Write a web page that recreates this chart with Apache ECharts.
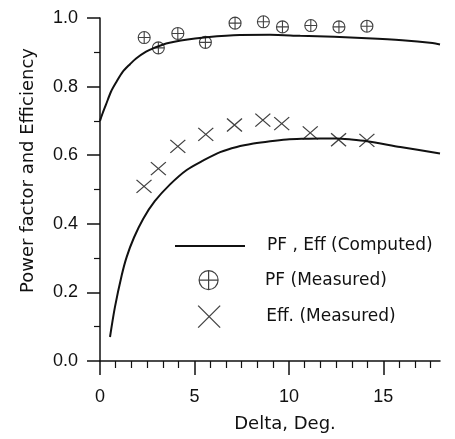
<!DOCTYPE html>
<html>
<head>
<meta charset="utf-8">
<script src="https://cdn.jsdelivr.net/npm/echarts@6/dist/echarts.min.js"></script>
<style>
  html, body { margin: 0; padding: 0; background: #ffffff; }
  #chart { width: 455px; height: 439px; }
</style>
</head>
<body>
<div id="chart"></div>
<script>
// Computed power factor curve (delta in degrees)
const pfCompX = [0.0, 0.11, 0.32, 0.58, 0.85, 1.2, 1.6, 1.91, 2.44, 2.88, 3.62, 5.03, 7.07, 9.0, 10.6, 12.4, 14.13, 16.0, 17.6, 18.0];
const pfComp  = [0.700, 0.718, 0.748, 0.785, 0.812, 0.843, 0.866, 0.882, 0.902, 0.913, 0.927, 0.940, 0.950, 0.951, 0.948, 0.945, 0.941, 0.935, 0.927, 0.923];

// Computed efficiency curve
const effCompX = [0.53, 0.79, 1.15, 1.41, 1.80, 2.29, 2.90, 3.71, 4.59, 5.48, 6.36, 7.24, 8.12, 9.01, 9.89, 10.77, 11.66, 12.5, 13.3, 14.13, 15.9, 18.0];
const effComp  = [0.070, 0.157, 0.250, 0.303, 0.360, 0.415, 0.466, 0.515, 0.557, 0.585, 0.609, 0.624, 0.634, 0.641, 0.646, 0.648, 0.649, 0.649, 0.646, 0.641, 0.624, 0.605];

// Measured power factor
const pfMeasX = [2.34, 3.09, 4.12, 5.58, 7.15, 8.65, 9.66, 11.16, 12.65, 14.13];
const pfMeas  = [0.943, 0.913, 0.955, 0.929, 0.985, 0.989, 0.974, 0.978, 0.974, 0.976];

// Measured efficiency
const effMeasX = [2.33, 3.09, 4.12, 5.60, 7.12, 8.62, 9.62, 11.13, 12.63, 14.13];
const effMeas  = [0.509, 0.561, 0.626, 0.661, 0.688, 0.702, 0.692, 0.665, 0.645, 0.643];

// Axis tick labels
const xTickLabels = [0, 5, 10, 15];
const yTickLabels = [0.0, 0.2, 0.4, 0.6, 0.8, 1.0];

const NAME_COMPUTED = 'PF , Eff (Computed)';
const NAME_PF = 'PF (Measured)';
const NAME_EFF = 'Eff. (Measured)';

const INK = '#111111';
const PF_SYMBOL = 'path://M0,10A10,10,0,1,1,20,10A10,10,0,1,1,0,10ZM10,0V20M0,10H20';
const X_SYMBOL = 'path://M0,0L20,20M20,0L0,20';

// minor tick positions along delta: six steps per major interval of 5
const xMinor = [];
for (let k = 1; k * 5 / 6 < 18; k++) {
  if (k % 6 !== 0) xMinor.push(+(k * 5 / 6).toFixed(4));
}

const zip = (xs, ys) => xs.map((x, i) => [x, ys[i]]);

const gridBox = { left: 100, right: 15, top: 18, bottom: 78 };
const tickFont = { fontFamily: 'Liberation Sans', fontSize: 18, color: INK };
const nameFont = { fontFamily: 'DejaVu Sans', fontSize: 18, color: INK };
const legendFont = { fontFamily: 'DejaVu Sans', fontSize: 17, color: INK, lineHeight: 20 };

const chart = echarts.init(document.getElementById('chart'), null, { renderer: 'canvas' });

chart.setOption({
  backgroundColor: '#ffffff',
  animation: false,
  grid: [
    Object.assign({}, gridBox),
    Object.assign({}, gridBox)
  ],
  xAxis: [
    {
      type: 'value', gridIndex: 0, min: 0, max: 18, interval: 5,
      name: 'Delta, Deg.', nameLocation: 'middle', nameGap: 54,
      nameTextStyle: Object.assign({ padding: [0, 0, 0, 30] }, nameFont),
      axisLine: { lineStyle: { color: INK, width: 1.5 } },
      axisTick: { show: true, length: 14, customValues: xTickLabels, lineStyle: { color: INK, width: 1.5 } },
      axisLabel: { margin: 27, customValues: xTickLabels, formatter: v => String(v), ...tickFont },
      splitLine: { show: false }
    },
    {
      type: 'value', gridIndex: 1, min: 0, max: 18, position: 'bottom',
      axisLine: { show: false },
      axisTick: { show: true, length: 7, customValues: xMinor, lineStyle: { color: INK, width: 1.2 } },
      axisLabel: { show: false },
      splitLine: { show: false }
    }
  ],
  yAxis: [
    {
      type: 'value', gridIndex: 0, min: 0, max: 1, interval: 0.2,
      name: 'Power factor and Efficiency', nameLocation: 'middle', nameGap: 63,
      nameTextStyle: Object.assign({ padding: [0, 0, 0, 38] }, nameFont),
      axisLine: { show: true, lineStyle: { color: INK, width: 1.5 } },
      axisTick: { show: true, length: 13, lineStyle: { color: INK, width: 1.5 } },
      minorTick: { show: true, splitNumber: 2, length: 6, lineStyle: { color: INK, width: 1.2 } },
      axisLabel: { margin: 22, formatter: v => v.toFixed(1), ...tickFont },
      splitLine: { show: false }
    },
    {
      type: 'value', gridIndex: 1, min: 0, max: 1, show: false
    }
  ],
  legend: [
    {
      data: [{ name: NAME_COMPUTED, icon: 'rect' }],
      left: 175, top: 236, padding: 0,
      itemWidth: 70, itemHeight: 2,
      selectedMode: false,
      itemStyle: { color: INK, borderWidth: 0 },
      textStyle: Object.assign({ padding: [0, 0, 0, 17] }, legendFont)
    },
    {
      data: [{ name: NAME_PF, icon: PF_SYMBOL }],
      left: 198.5, top: 270, padding: 0,
      itemWidth: 23, itemHeight: 19,
      selectedMode: false,
      itemStyle: { color: 'rgba(0,0,0,0)', borderColor: INK, borderWidth: 1.2 },
      textStyle: Object.assign({ padding: [0, 0, 0, 40] }, legendFont)
    },
    {
      data: [{ name: NAME_EFF, icon: X_SYMBOL }],
      left: 197.5, top: 305, padding: 0,
      itemWidth: 24, itemHeight: 22,
      selectedMode: false,
      itemStyle: { color: 'rgba(0,0,0,0)', borderColor: INK, borderWidth: 1.3 },
      textStyle: Object.assign({ padding: [0, 0, 0, 40] }, legendFont)
    }
  ],
  series: [
    {
      name: NAME_COMPUTED, type: 'line', xAxisIndex: 0, yAxisIndex: 0,
      data: zip(pfCompX, pfComp),
      smooth: 0.3, symbol: 'none',
      lineStyle: { color: INK, width: 2 },
      itemStyle: { color: INK }
    },
    {
      name: NAME_COMPUTED, type: 'line', xAxisIndex: 0, yAxisIndex: 0,
      data: zip(effCompX, effComp),
      smooth: 0.3, symbol: 'none',
      lineStyle: { color: INK, width: 2 },
      itemStyle: { color: INK }
    },
    {
      name: NAME_PF, type: 'scatter', xAxisIndex: 0, yAxisIndex: 0,
      data: zip(pfMeasX, pfMeas),
      symbol: PF_SYMBOL, symbolSize: 12,
      itemStyle: { color: 'rgba(0,0,0,0)', borderColor: INK, borderWidth: 1.1 }
    },
    {
      name: NAME_EFF, type: 'scatter', xAxisIndex: 0, yAxisIndex: 0,
      data: zip(effMeasX, effMeas),
      symbol: X_SYMBOL, symbolSize: [15, 13],
      itemStyle: { color: 'rgba(0,0,0,0)', borderColor: INK, borderWidth: 1.2 }
    }
  ]
});
</script>
</body>
</html>
